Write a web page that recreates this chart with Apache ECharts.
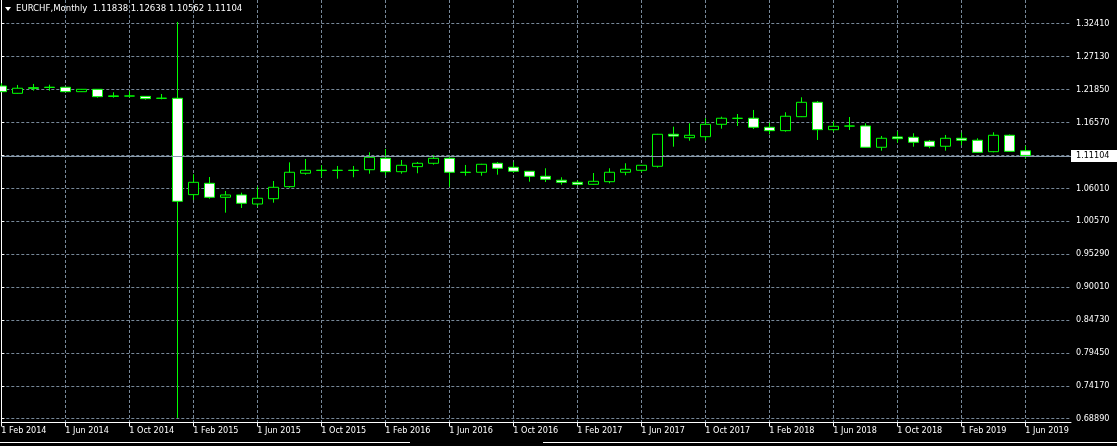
<!DOCTYPE html>
<html><head><meta charset="utf-8">
<script src="https://cdn.jsdelivr.net/npm/echarts@6/dist/echarts.min.js"></script>
<style>html,body{margin:0;padding:0;background:#000;overflow:hidden}#c{width:1117px;height:446px}</style>
</head><body><div id="c"></div>
<script>
// ---------------- data ----------------
const symbolName = 'EURCHF,Monthly';
const months = ['Feb 2014','Mar 2014','Apr 2014','May 2014','Jun 2014','Jul 2014','Aug 2014','Sep 2014','Oct 2014','Nov 2014','Dec 2014',
  'Jan 2015','Feb 2015','Mar 2015','Apr 2015','May 2015','Jun 2015','Jul 2015','Aug 2015','Sep 2015','Oct 2015','Nov 2015','Dec 2015',
  'Jan 2016','Feb 2016','Mar 2016','Apr 2016','May 2016','Jun 2016','Jul 2016','Aug 2016','Sep 2016','Oct 2016','Nov 2016','Dec 2016',
  'Jan 2017','Feb 2017','Mar 2017','Apr 2017','May 2017','Jun 2017','Jul 2017','Aug 2017','Sep 2017','Oct 2017','Nov 2017','Dec 2017',
  'Jan 2018','Feb 2018','Mar 2018','Apr 2018','May 2018','Jun 2018','Jul 2018','Aug 2018','Sep 2018','Oct 2018','Nov 2018','Dec 2018',
  'Jan 2019','Feb 2019','Mar 2019','Apr 2019','May 2019','Jun 2019'];
const open = [1.2223,1.2106,1.2195,1.2203,1.2203,1.2132,1.2170,1.2055,1.2063,1.2057,1.2025,
  1.2026,1.0481,1.0663,1.0439,1.0476,1.0331,1.0416,1.0609,1.0824,1.0872,1.0870,1.0872,
  1.0881,1.1064,1.0849,1.0930,1.0984,1.1064,1.0840,1.0840,1.0984,1.0920,1.0856,1.0776,
  1.0712,1.0679,1.0647,1.0689,1.0840,1.0872,1.0936,1.1449,1.1394,1.1410,1.1609,1.1706,
  1.1706,1.1561,1.1507,1.1731,1.1962,1.1523,1.1582,1.1582,1.1241,1.1406,1.1401,1.1337,
  1.1257,1.1385,1.1353,1.1170,1.1433,1.11838];
const high = [1.2267,1.2240,1.2256,1.2244,1.2210,1.2175,1.2172,1.2122,1.2138,1.2060,1.2095,
  1.3250,1.0808,1.0764,1.0540,1.0513,1.0609,1.0700,1.0999,1.1053,1.0952,1.0941,1.0941,
  1.1160,1.1213,1.1037,1.1005,1.1117,1.1106,1.0957,1.0975,1.1005,1.1000,1.0860,1.0904,
  1.0760,1.0712,1.0828,1.0904,1.0984,1.0958,1.1455,1.1571,1.1625,1.1706,1.1731,1.1774,
  1.1839,1.1635,1.1802,1.2042,1.1983,1.1651,1.1726,1.1625,1.1422,1.1497,1.1465,1.1358,
  1.1438,1.1475,1.1385,1.1481,1.1445,1.12638];
const low = [1.2125,1.2100,1.2148,1.2148,1.2128,1.2128,1.2036,1.2036,1.2042,1.2004,1.2010,
  0.6901,1.0396,1.0416,1.0192,1.0267,1.0288,1.0352,1.0593,1.0801,1.0760,1.0737,1.0760,
  1.0817,1.0792,1.0817,1.0824,1.0962,1.0609,1.0785,1.0785,1.0801,1.0833,1.0689,1.0684,
  1.0641,1.0631,1.0640,1.0663,1.0792,1.0840,1.0914,1.1250,1.1346,1.1346,1.1539,1.1582,
  1.1534,1.1449,1.1491,1.1725,1.1358,1.1491,1.1518,1.1238,1.1186,1.1314,1.1250,1.1225,
  1.1186,1.1273,1.1155,1.1160,1.1170,1.10562];
const close = [1.2132,1.2187,1.2186,1.2200,1.2132,1.2170,1.2052,1.2065,1.2062,1.2020,1.2028,
  1.0375,1.0679,1.0439,1.0476,1.0343,1.0423,1.0599,1.0840,1.0872,1.0870,1.0872,1.0870,
  1.1080,1.0849,1.0952,1.0984,1.1064,1.0840,1.0838,1.0968,1.0904,1.0856,1.0776,1.0728,
  1.0679,1.0647,1.0695,1.0840,1.0888,1.0952,1.1449,1.1420,1.1433,1.1609,1.1706,1.1704,
  1.1561,1.1507,1.1738,1.1962,1.1523,1.1577,1.1580,1.1241,1.1385,1.1379,1.1321,1.1257,
  1.1385,1.1353,1.1160,1.1433,1.1176,1.11104];
const yTickLabels = ['0.68890','0.74170','0.79450','0.84730','0.90010','0.95290','1.00570','1.06010','','1.16570','1.21850','1.27130','1.32410'];
const yMin = 0.6889, yStep = 0.0528, yMax = 1.3682;

// ---------------- chart ----------------
const FONT = "'DejaVu Sans Condensed', 'Liberation Sans', Arial, sans-serif";
const GRID = '#778899';
const n = months.length;
const xMax = 66.856;
const last = n - 1;
const candles = months.map((m, i) => [i, open[i], close[i], low[i], high[i]]);
const titleText = symbolName + '  ' + [open[last], high[last], low[last], close[last]].map(v => v.toFixed(5)).join(' ');

const chart = echarts.init(document.getElementById('c'), null, {renderer: 'canvas'});
chart.setOption({
  backgroundColor: '#000000',
  animation: false,
  title: {
    text: titleText, left: 16, top: 4, padding: 0,
    textStyle: {color: '#ffffff', fontSize: 9.5, fontWeight: 'normal', fontFamily: FONT}
  },
  graphic: [
    {type: 'polygon', shape: {points: [[5, 7], [11, 7], [8, 11]]}, style: {fill: '#ffffff'}},
    {type: 'line', shape: {x1: 0, y1: 442.5, x2: 410, y2: 442.5}, style: {stroke: '#ffffff', lineWidth: 1}},
    {type: 'line', shape: {x1: 543, y1: 442.5, x2: 1117, y2: 442.5}, style: {stroke: '#ffffff', lineWidth: 1}}
  ],
  grid: [
    {left: 1.3, right: 46, top: -5, bottom: 27.3, outerBoundsMode: 'none', containLabel: false},
    {left: 1.3, right: 46, top: -5, bottom: 23.5, outerBoundsMode: 'none', containLabel: false}
  ],
  xAxis: [
    {type: 'value', gridIndex: 0, min: 0, max: xMax, show: false},
    {type: 'value', gridIndex: 1, min: 0, max: xMax, interval: 2,
      axisLine: {show: true, lineStyle: {color: '#ffffff', width: 1}},
      axisTick: {show: true, length: 4, lineStyle: {color: '#ffffff'}, customValues: months.map((m, i) => i).filter(i => i % 4 === 0)},
      axisLabel: {show: true, color: '#ffffff', fontSize: 9, fontFamily: FONT, align: 'left', margin: 3, lineHeight: 10,
        showMinLabel: true, showMaxLabel: false,
        formatter: v => { const i = Math.round(v); if (Math.abs(v - i) > 1e-6 || i % 4 !== 0 || i >= n) return ''; return '1 ' + months[i]; }},
      splitLine: {show: true, lineStyle: {color: GRID, type: [3, 2], width: 1}}
    }
  ],
  yAxis: [
    {type: 'value', gridIndex: 0, position: 'right', min: yMin, max: yMax, interval: yStep,
      axisLine: {show: false},
      axisTick: {show: true, length: 3, lineStyle: {color: '#ffffff'}},
      axisLabel: {show: true, color: '#ffffff', fontSize: 9, fontFamily: FONT, margin: 5,
        formatter: v => { const r = (v - yMin) / yStep; const i = Math.round(r); if (Math.abs(r - i) > 1e-3) return ''; return yTickLabels[i] || ''; }},
      splitLine: {show: true, lineStyle: {color: GRID, type: [3, 2], width: 1}}
    },
    {type: 'value', gridIndex: 1, position: 'right', min: 0, max: 1,
      axisLine: {show: true, lineStyle: {color: '#ffffff', width: 1}},
      axisTick: {show: false}, axisLabel: {show: false}, splitLine: {show: false}
    }
  ],
  series: [{
    type: 'candlestick', xAxisIndex: 0, yAxisIndex: 0,
    data: candles, barWidth: 10, clip: false,
    itemStyle: {color: '#000000', color0: '#ffffff', borderColor: '#00ff00', borderColor0: '#00ff00', borderWidth: 1},
    markLine: {
      silent: true, symbol: ['none', 'none'],
      lineStyle: {color: '#8899aa', type: 'solid', width: 1},
      label: {show: true, position: 'end', distance: 0, formatter: () => close[last].toFixed(5),
        backgroundColor: '#ffffff', color: '#000000', fontSize: 9, fontFamily: FONT, padding: [2, 8, 1, 5]},
      data: [{yAxis: close[last]}]
    }
  }]
});
</script></body></html>
